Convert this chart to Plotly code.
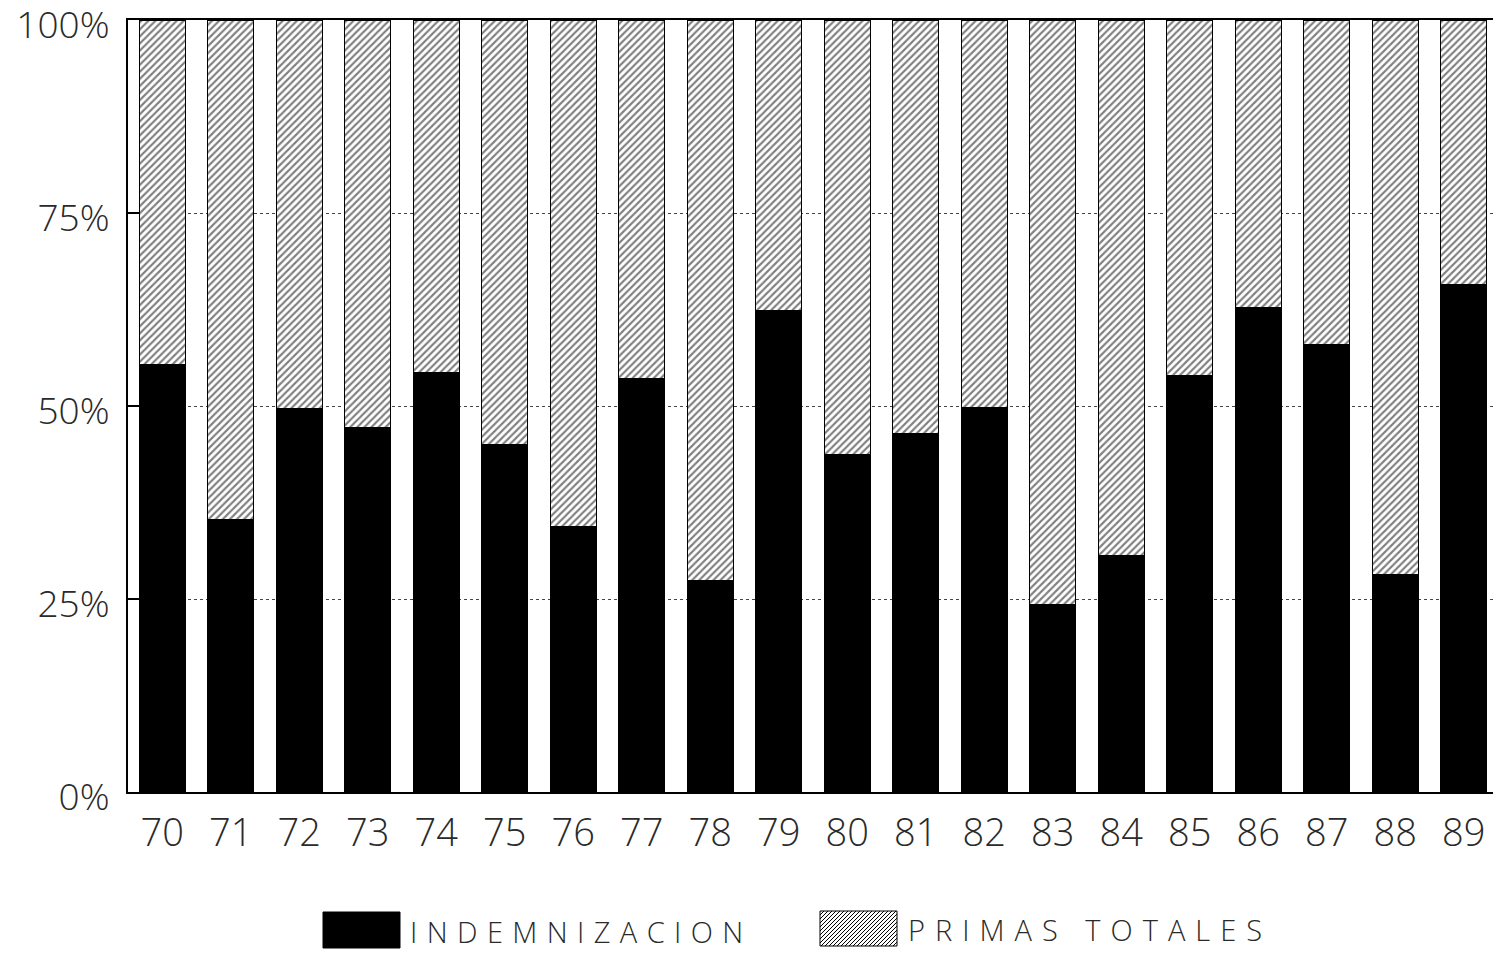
import plotly.graph_objects as go

# ---- data ----
years = ["70", "71", "72", "73", "74", "75", "76", "77", "78", "79",
         "80", "81", "82", "83", "84", "85", "86", "87", "88", "89"]
indemnizacion = [55.3, 35.3, 49.6, 47.2, 54.3, 45.0, 34.4, 53.5, 27.4, 62.3,
                 43.7, 46.4, 49.8, 24.3, 30.6, 54.0, 62.7, 57.9, 28.1, 65.7]
primas_totales = [44.7, 64.7, 50.4, 52.8, 45.7, 55.0, 65.6, 46.5, 72.6, 37.7,
                  56.3, 53.6, 50.2, 75.7, 69.4, 46.0, 37.3, 42.1, 71.9, 34.3]
y_tick_vals = [0, 25, 50, 75, 100]
y_tick_text = ["0%", "25%", "50%", "75%", "100%"]
series_names = ["INDEMNIZACION", "PRIMAS TOTALES"]

# ---- layout geometry (pixels); page body has an 8px margin ----
OFF = 8
W, H = 1501 - OFF, 953 - OFF
L, T = 128 - OFF, 20 - OFF
R = W - (1498 - OFF)
B = H - (792 - OFF)
PW, PH = W - L - R, H - T - B


def px_x(x):
    return (x - OFF - L) / PW


def px_y(y):
    return (H - B - (y - OFF)) / PH


FONT = "Open Sans"
TXT = "#2a2a2a"
hatch = dict(shape="/", fgcolor="black", bgcolor="white", size=5, solidity=0.42)

fig = go.Figure()
fig.add_bar(x=years, y=indemnizacion, name=series_names[0],
            marker=dict(color="black", line=dict(color="black", width=1)))
fig.add_bar(x=years, y=primas_totales, name=series_names[1],
            marker=dict(color="white", pattern=hatch,
                        line=dict(color="black", width=1.2)))

# ---- custom legend (large swatches like the original) ----
shapes = []
sw_y0, sw_y1 = 912, 948
shapes.append(dict(type="rect", xref="paper", yref="paper",
                   x0=px_x(323), x1=px_x(400), y0=px_y(sw_y1), y1=px_y(sw_y0),
                   fillcolor="black", line=dict(color="black", width=1)))
hx0, hx1 = 820, 897
hy0, hy1 = 911, 946
shapes.append(dict(type="rect", xref="paper", yref="paper",
                   x0=px_x(hx0), x1=px_x(hx1), y0=px_y(hy1), y1=px_y(hy0),
                   fillcolor="white", line=dict(color="black", width=1)))
path = ""
step = 4
k = hx0 - (hy1 - hy0)
while k < hx1:
    xa, ya = k, hy1
    xb, yb = k + (hy1 - hy0), hy0
    if xa < hx0:
        ya = hy1 - (hx0 - xa)
        xa = hx0
    if xb > hx1:
        yb = hy0 + (xb - hx1)
        xb = hx1
    if xb > xa:
        path += f"M{px_x(xa):.5f},{px_y(ya):.5f} L{px_x(xb):.5f},{px_y(yb):.5f} "
    k += step
shapes.append(dict(type="path", xref="paper", yref="paper", path=path,
                   line=dict(color="black", width=1)))

SPACED = '<span style="letter-spacing:{}px">{}</span>'
annotations = [
    dict(text=SPACED.format(9.4, series_names[0]), xref="paper", yref="paper",
         x=px_x(408), y=px_y(931),
         xanchor="left", yanchor="middle", showarrow=False,
         font=dict(family=FONT, size=29, color=TXT, weight=300)),
    dict(text=SPACED.format(10, series_names[1]), xref="paper", yref="paper",
         x=px_x(906), y=px_y(929),
         xanchor="left", yanchor="middle", showarrow=False,
         font=dict(family=FONT, size=29, color=TXT, weight=300)),
]

fig.update_layout(
    width=W, height=H,
    margin=dict(l=L, r=R, t=T, b=B, pad=0, autoexpand=False),
    barmode="stack", bargap=0.33,
    plot_bgcolor="white", paper_bgcolor="white",
    showlegend=False,
    shapes=shapes, annotations=annotations,
    font=dict(family=FONT, color=TXT),
)
fig.update_xaxes(
    type="category", showline=True, linecolor="black", linewidth=2, mirror=True,
    ticks="", showgrid=False, automargin=False,
    tickfont=dict(family=FONT, size=38, color=TXT, weight=300),
    ticklabelstandoff=6,
)
fig.update_yaxes(
    range=[0, 100], tickvals=y_tick_vals, ticktext=y_tick_text,
    showline=True, linecolor="black", linewidth=2, mirror=True,
    ticks="inside", ticklen=11, tickwidth=2, tickcolor="black",
    showgrid=True, gridcolor="#444", gridwidth=1, griddash="dot",
    zeroline=False, automargin=False,
    tickfont=dict(family=FONT, size=37, color=TXT, weight=300),
    ticklabelstandoff=9, ticklabelshift=5, ticklabeloverflow="allow",
)

fig.write_html("out.html")
